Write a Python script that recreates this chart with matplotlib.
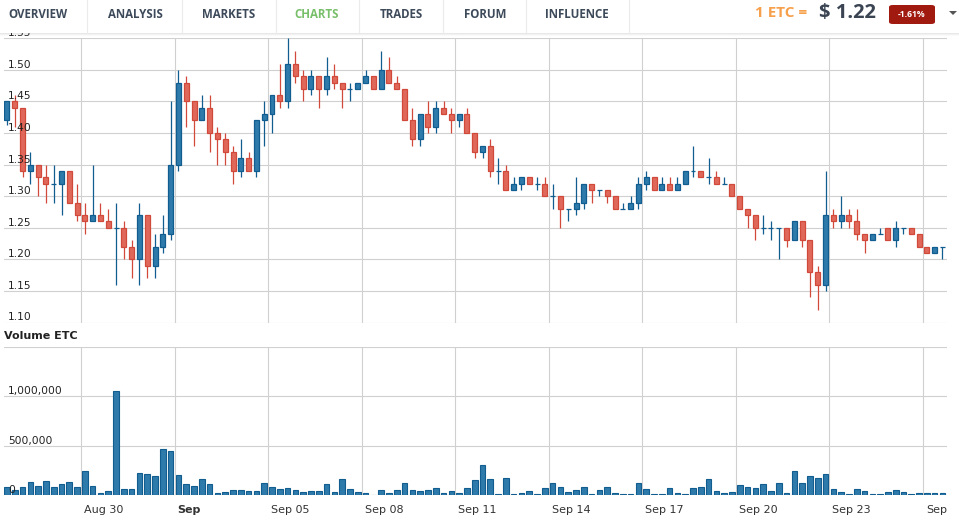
import numpy as np
import pandas as pd
import matplotlib
matplotlib.use("Agg")
import matplotlib.pyplot as plt
import matplotlib.dates as mdates
import matplotlib.transforms as mtransforms
from matplotlib.patches import Rectangle, FancyBboxPatch, Polygon
from matplotlib.lines import Line2D

# 6h candles, ETC/USD
opens = [1.42, 1.45, 1.44, 1.34, 1.35, 1.33, 1.32, 1.32, 1.34, 1.29,
         1.27, 1.26, 1.27, 1.26, 1.25, 1.25, 1.22, 1.20, 1.27, 1.19,
         1.22, 1.24, 1.35, 1.48, 1.45, 1.42, 1.44, 1.40, 1.39, 1.37,
         1.34, 1.36, 1.34, 1.42, 1.43, 1.46, 1.45, 1.51, 1.49, 1.47,
         1.49, 1.47, 1.49, 1.48, 1.47, 1.47, 1.48, 1.49, 1.47, 1.50,
         1.48, 1.47, 1.42, 1.39, 1.43, 1.41, 1.44, 1.43, 1.42, 1.43,
         1.40, 1.37, 1.38, 1.34, 1.34, 1.31, 1.32, 1.33, 1.32, 1.32,
         1.30, 1.30, 1.28, 1.28, 1.29, 1.32, 1.31, 1.31, 1.30, 1.28,
         1.28, 1.29, 1.32, 1.33, 1.31, 1.32, 1.31, 1.32, 1.34, 1.34,
         1.33, 1.33, 1.32, 1.32, 1.30, 1.28, 1.27, 1.25, 1.25, 1.25,
         1.25, 1.23, 1.26, 1.23, 1.18, 1.16, 1.27, 1.26, 1.27, 1.26,
         1.24, 1.23, 1.24, 1.25, 1.23, 1.25, 1.25, 1.24, 1.22, 1.21,
         1.22]
highs = [1.45, 1.46, 1.44, 1.37, 1.35, 1.35, 1.35, 1.34, 1.34, 1.32,
         1.29, 1.35, 1.29, 1.28, 1.29, 1.26, 1.23, 1.29, 1.27, 1.24,
         1.27, 1.45, 1.50, 1.49, 1.45, 1.46, 1.46, 1.41, 1.40, 1.38,
         1.39, 1.37, 1.42, 1.45, 1.46, 1.51, 1.55, 1.53, 1.50, 1.50,
         1.49, 1.52, 1.51, 1.48, 1.48, 1.48, 1.50, 1.49, 1.53, 1.52,
         1.49, 1.47, 1.44, 1.43, 1.45, 1.45, 1.45, 1.44, 1.43, 1.44,
         1.40, 1.38, 1.39, 1.36, 1.35, 1.33, 1.33, 1.33, 1.33, 1.33,
         1.32, 1.30, 1.28, 1.33, 1.32, 1.32, 1.31, 1.31, 1.30, 1.29,
         1.30, 1.33, 1.34, 1.33, 1.33, 1.33, 1.33, 1.34, 1.38, 1.34,
         1.36, 1.34, 1.33, 1.32, 1.30, 1.28, 1.27, 1.27, 1.26, 1.25,
         1.25, 1.26, 1.26, 1.23, 1.19, 1.34, 1.28, 1.30, 1.28, 1.28,
         1.24, 1.24, 1.25, 1.25, 1.26, 1.25, 1.25, 1.24, 1.22, 1.22,
         1.22]
lows = [1.413, 1.41, 1.33, 1.32, 1.30, 1.29, 1.29, 1.27, 1.29, 1.26,
        1.24, 1.26, 1.26, 1.25, 1.16, 1.20, 1.17, 1.16, 1.17, 1.17,
        1.21, 1.23, 1.34, 1.41, 1.38, 1.42, 1.37, 1.35, 1.35, 1.32,
        1.33, 1.34, 1.33, 1.38, 1.40, 1.44, 1.44, 1.48, 1.45, 1.46,
        1.44, 1.46, 1.47, 1.44, 1.45, 1.47, 1.48, 1.47, 1.47, 1.48,
        1.47, 1.42, 1.38, 1.38, 1.40, 1.40, 1.43, 1.40, 1.41, 1.40,
        1.36, 1.36, 1.33, 1.32, 1.31, 1.31, 1.31, 1.32, 1.31, 1.30,
        1.28, 1.25, 1.26, 1.27, 1.28, 1.29, 1.30, 1.29, 1.28, 1.28,
        1.28, 1.28, 1.31, 1.31, 1.31, 1.31, 1.31, 1.32, 1.33, 1.33,
        1.32, 1.32, 1.32, 1.30, 1.28, 1.25, 1.23, 1.24, 1.23, 1.20,
        1.22, 1.23, 1.22, 1.14, 1.12, 1.15, 1.25, 1.25, 1.25, 1.23,
        1.21, 1.23, 1.24, 1.23, 1.22, 1.24, 1.24, 1.22, 1.21, 1.21,
        1.20]
closes = [1.45, 1.44, 1.34, 1.35, 1.33, 1.32, 1.32, 1.34, 1.29, 1.27,
          1.26, 1.27, 1.26, 1.25, 1.25, 1.22, 1.20, 1.27, 1.19, 1.22,
          1.24, 1.35, 1.48, 1.45, 1.42, 1.44, 1.40, 1.39, 1.37, 1.34,
          1.36, 1.34, 1.42, 1.43, 1.46, 1.45, 1.51, 1.49, 1.47, 1.49,
          1.47, 1.49, 1.48, 1.47, 1.47, 1.48, 1.49, 1.47, 1.50, 1.48,
          1.47, 1.42, 1.39, 1.43, 1.41, 1.44, 1.43, 1.42, 1.43, 1.40,
          1.37, 1.38, 1.34, 1.34, 1.31, 1.32, 1.33, 1.32, 1.32, 1.30,
          1.30, 1.28, 1.28, 1.29, 1.32, 1.31, 1.31, 1.30, 1.28, 1.28,
          1.29, 1.32, 1.33, 1.31, 1.32, 1.31, 1.32, 1.34, 1.34, 1.33,
          1.33, 1.32, 1.32, 1.30, 1.28, 1.27, 1.25, 1.25, 1.25, 1.25,
          1.23, 1.26, 1.23, 1.18, 1.16, 1.27, 1.26, 1.27, 1.26, 1.24,
          1.23, 1.24, 1.24, 1.23, 1.25, 1.25, 1.24, 1.22, 1.21, 1.22,
          1.22]
volumes = [88, 50, 81, 131, 91, 141, 81, 111, 131, 81,
           242, 91, 20, 40, 1050, 61, 61, 222, 212, 192,
           465, 444, 202, 111, 91, 162, 111, 20, 30, 50,
           50, 40, 40, 121, 81, 61, 71, 50, 30, 40,
           40, 111, 30, 162, 61, 30, 20, 3, 50, 20,
           50, 121, 50, 40, 50, 71, 20, 40, 20, 71,
           152, 304, 162, 10, 172, 10, 20, 41, 10, 71,
           122, 81, 30, 51, 81, 10, 51, 81, 20, 10,
           10, 122, 61, 10, 10, 71, 20, 10, 71, 81,
           162, 41, 20, 30, 101, 81, 71, 111, 41, 122,
           20, 243, 122, 193, 172, 213, 61, 30, 10, 61,
           41, 10, 10, 30, 51, 30, 10, 20, 20, 20,
           20]  # thousands

tick_dates = ["2016-08-30", "2016-09-02", "2016-09-05", "2016-09-08", "2016-09-11",
              "2016-09-14", "2016-09-17", "2016-09-20", "2016-09-23", "2016-09-26"]
tick_labels = ["Aug 30", "Sep", "Sep 05", "Sep 08", "Sep 11",
               "Sep 14", "Sep 17", "Sep 20", "Sep 23", "Sep"]
price_ticks = [1.10, 1.15, 1.20, 1.25, 1.30, 1.35, 1.40, 1.45, 1.50, 1.55]
price_labels = ["1.10", "1.15", "1.20", "1.25", "1.30", "1.35", "1.40", "1.45", "1.50", "1.55"]
vol_ticks = [0, 500000, 1000000, 1500000]
vol_labels = ["0", "500,000", "1,000,000", ""]

menu = ["OVERVIEW", "ANALYSIS", "MARKETS", "CHARTS", "TRADES", "FORUM", "INFLUENCE"]

BLUE, BLUE_EDGE = "#2e7bab", "#115d90"
RED, RED_EDGE = "#e0685a", "#d1493a"
GRID = "#d0d0d0"
W, H = 959, 525

o = np.array(opens); h = np.array(highs); l = np.array(lows); c = np.array(closes)
vol = np.array(volumes) * 1000
times = pd.date_range("2016-08-27 15:00", periods=len(o), freq="6h")
x = mdates.date2num(times.to_pydatetime())
tx = mdates.date2num(pd.to_datetime(tick_dates).to_pydatetime())
up = c >= o

fig = plt.figure(figsize=(W / 100, H / 100), dpi=100)
ax = fig.add_axes([4 / W, 1 - 322.5 / H, 943 / W, (322.5 - 38.3) / H])
axv = fig.add_axes([4 / W, 1 - 495.3 / H, 943 / W, (495.3 - 346.8) / H], sharex=ax)

for a in (ax, axv):
    for s in a.spines.values():
        s.set_visible(False)
    a.set_xticks(tx)
    a.tick_params(length=0, labelbottom=False, labelleft=False)
    a.grid(True, color=GRID, lw=0.8)
    a.set_axisbelow(True)

# candles
ax.vlines(x[up], l[up], h[up], color=BLUE_EDGE, lw=0.9, zorder=2)
ax.vlines(x[~up], l[~up], h[~up], color=RED_EDGE, lw=0.9, zorder=2)
ax.bar(x[up], (c - o)[up], bottom=o[up], width=0.16, color=BLUE,
       edgecolor=BLUE_EDGE, lw=0.9, zorder=3)
ax.bar(x[~up], (o - c)[~up], bottom=c[~up], width=0.16, color=RED,
       edgecolor=RED_EDGE, lw=0.9, zorder=3)
ax.set_ylim(1.10, 1.55)
ax.set_yticks(price_ticks)
ax.set_xlim(tx[0] - 2.469, tx[-1] + 0.77)

# volume
axv.bar(x, vol, width=0.18, color=BLUE, edgecolor=BLUE_EDGE, lw=0.8, zorder=3)
axv.set_ylim(0, 1500000)
axv.set_yticks(vol_ticks)

# axis labels inside plot
for a, ticks, labels in ((ax, price_ticks, price_labels), (axv, vol_ticks, vol_labels)):
    tr = mtransforms.offset_copy(mtransforms.blended_transform_factory(a.transAxes, a.transData),
                                 fig=fig, x=4, y=2, units="dots")
    for v, s in zip(ticks, labels):
        a.text(0, v, s, transform=tr, ha="left", va="baseline", fontsize=7.7,
               color="#222222", zorder=10, clip_on=False)

trx = mtransforms.offset_copy(mtransforms.blended_transform_factory(axv.transData, axv.transAxes),
                              fig=fig, x=3, y=-15, units="dots")
for v, s in zip(tx, tick_labels):
    axv.text(v, 0, s, transform=trx, ha="left", va="center", fontsize=8,
             color="#333333", fontweight="bold" if s == "Sep" and v == tx[1] else "normal")

fig.text(4 / W, 1 - 336 / H, "Volume ETC", fontsize=8, fontweight="bold",
         color="#222222", ha="left", va="center")

# top navigation bar
fig.add_artist(Rectangle((0, 1 - 33 / H), 1, 33 / H, transform=fig.transFigure,
                         fc="white", ec="none", zorder=5))
for i, al in enumerate([0.18, 0.10, 0.04]):
    fig.add_artist(Rectangle((0, 1 - (34 + i) / H), 1, 1 / H, transform=fig.transFigure,
                             fc="#808080", alpha=al, ec="none", zorder=5))
for sx in [87, 182, 276, 359, 443, 526, 629]:
    fig.add_artist(Line2D([sx / W, sx / W], [1 - 33 / H, 1], transform=fig.transFigure,
                          color="#ebebeb", lw=0.8, zorder=6))
menu_x = [38, 135, 229, 317, 401, 485, 577]
for mx, name in zip(menu_x, menu):
    fig.text(mx / W, 1 - 14 / H, name, ha="center", va="center", fontsize=8.3,
             fontfamily="Open Sans", fontweight="bold",
             color="#78bf6a" if name == "CHARTS" else "#3d4a5a", zorder=7)

fig.text(781 / W, 1 - 13 / H, "1 ETC =", ha="center", va="center", fontsize=11,
         fontfamily="Open Sans", fontweight="bold", color="#f7a04b", zorder=7)
fig.text(847 / W, 1 - 13 / H, "$ 1.22", ha="center", va="center", fontsize=14.5,
         fontfamily="Open Sans", fontweight="bold", color="#3a4452", zorder=7)
fig.add_artist(FancyBboxPatch((889 / W, 1 - 24 / H), 46 / W, 19 / H,
                              boxstyle="round,pad=0,rounding_size=0.004",
                              transform=fig.transFigure, fc="#a11a10", ec="none", zorder=7))
fig.text(912 / W, 1 - 14.5 / H, "-1.61%", ha="center", va="center", fontsize=6.2,
         fontfamily="Open Sans", fontweight="bold", color="white", zorder=8)
fig.add_artist(Polygon([[949 / W, 1 - 11 / H], [957 / W, 1 - 11 / H], [953 / W, 1 - 15 / H]],
                       closed=True, transform=fig.transFigure, fc="#555555", ec="none", zorder=8))

fig.savefig("out.png", dpi=100)
